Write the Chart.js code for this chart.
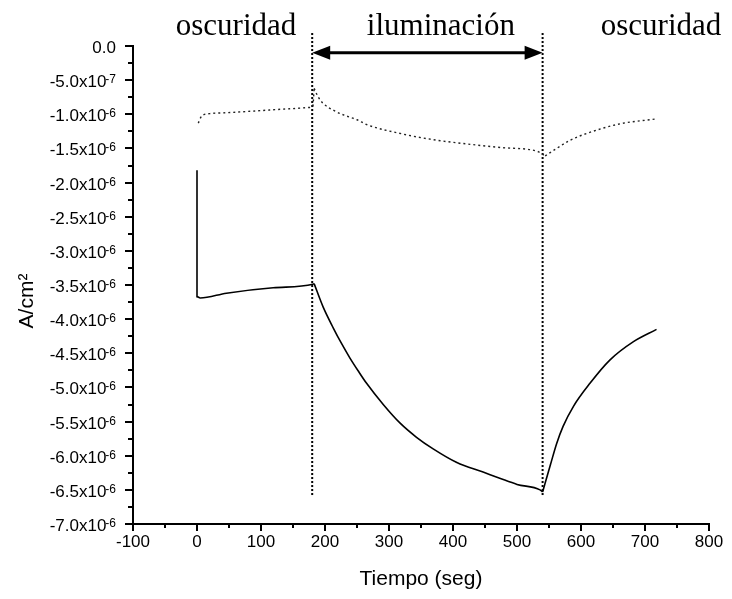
<!DOCTYPE html>
<html>
<head>
<meta charset="utf-8">
<script src="https://cdn.jsdelivr.net/npm/chart.js@4.4.1/dist/chart.umd.min.js"></script>
<style>
  html, body { margin: 0; padding: 0; background: #fff; }
</style>
</head>
<body>
<canvas id="grafica" width="732" height="599"></canvas>
<script>
// curva continua (corriente, A/cm2) vs tiempo (seg)
const tiempoSolida = [0, 0, 5, 46, 119, 181, 183, 197, 213, 226, 239, 252, 265, 291, 317, 343, 369, 406, 447, 473, 500, 536, 540, 552, 562, 572, 588, 614, 645, 682, 718];
const corrienteSolida = [-1.82e-6, -3.67e-6, -3.69e-6, -3.62e-6, -3.54e-6, -3.49e-6, -3.48e-6, -3.82e-6, -4.13e-6, -4.36e-6, -4.57e-6, -4.76e-6, -4.94e-6, -5.25e-6, -5.52e-6, -5.73e-6, -5.90e-6, -6.10e-6, -6.24e-6, -6.33e-6, -6.42e-6, -6.50e-6, -6.53e-6, -6.14e-6, -5.82e-6, -5.57e-6, -5.28e-6, -4.94e-6, -4.60e-6, -4.33e-6, -4.15e-6];

// curva punteada
const tiempoPunteada = [2, 7, 20, 41, 93, 145, 177, 181, 183, 189, 197, 213, 229, 250, 265, 322, 375, 427, 479, 531, 544, 562, 583, 609, 661, 716];
const corrientePunteada = [-1.13e-6, -1.03e-6, -0.99e-6, -0.98e-6, -0.95e-6, -0.92e-6, -0.90e-6, -0.88e-6, -0.62e-6, -0.74e-6, -0.84e-6, -0.94e-6, -1.01e-6, -1.08e-6, -1.15e-6, -1.29e-6, -1.38e-6, -1.44e-6, -1.49e-6, -1.54e-6, -1.61e-6, -1.50e-6, -1.38e-6, -1.28e-6, -1.14e-6, -1.07e-6];

// inicio y fin de la iluminacion
const cortes = [180, 540];
const corteY = [1.9e-7, -6.6e-6];

// tramos (los quiebres quedan en punta)
const quiebresSolida = [183, 540];
const quiebresPunteada = [183, 544];

const etiquetas = ['oscuridad', 'iluminación', 'oscuridad'];
const etiquetasX = [61, 381, 725];

const pareja = (xs, ys) => xs.map((x, i) => ({ x: x, y: ys[i] }));

function tramos(xs, ys, q) {
  const pts = pareja(xs, ys);
  return [
    pts.filter(p => p.x <= q[0]),
    pts.filter(p => p.x >= q[0] && p.x <= q[1]),
    pts.filter(p => p.x >= q[1])
  ];
}

Chart.defaults.font.family = '"Liberation Sans", Arial, sans-serif';
Chart.defaults.color = '#000';

const extras = {
  id: 'extras',
  afterDraw(chart) {
    const ctx = chart.ctx;
    const xs = chart.scales.x;
    const ys = chart.scales.y;
    const area = chart.chartArea;
    ctx.save();
    ctx.strokeStyle = '#000';
    ctx.fillStyle = '#000';
    ctx.lineWidth = 2;

    // marcas del eje x
    xs.ticks.forEach(t => {
      const px = Math.round(xs.getPixelForValue(t.value));
      const largo = t.value % 100 === 0 ? 7 : 4;
      ctx.beginPath();
      ctx.moveTo(px, area.bottom);
      ctx.lineTo(px, area.bottom + largo);
      ctx.stroke();
    });

    // marcas y etiquetas del eje y
    ys.ticks.forEach(t => {
      const py = Math.round(ys.getPixelForValue(t.value));
      const mayor = Math.abs(t.value / 5e-7 - Math.round(t.value / 5e-7)) < 1e-3;
      ctx.beginPath();
      ctx.moveTo(area.left, py);
      ctx.lineTo(area.left - (mayor ? 8 : 5), py);
      ctx.stroke();
      if (!mayor) return;
      let base, sup = '';
      if (Math.abs(t.value) < 1e-12) {
        base = '0.0';
      } else {
        const e = Math.floor(Math.log10(Math.abs(t.value)) + 1e-9);
        base = (t.value / Math.pow(10, e)).toFixed(1) + 'x10';
        sup = String(e);
      }
      ctx.textBaseline = 'alphabetic';
      ctx.font = '12px "Liberation Sans", Arial';
      const anchoSup = sup ? ctx.measureText(sup).width - 1 : 0;
      const derecha = area.left - 17;
      ctx.font = '17px "Liberation Sans", Arial';
      ctx.textAlign = 'right';
      ctx.fillText(base, derecha - anchoSup, py + 7);
      if (sup) {
        ctx.font = '12px "Liberation Sans", Arial';
        ctx.textAlign = 'left';
        ctx.fillText(sup, derecha - anchoSup - 1, py + 3);
      }
    });

    // titulo del eje y
    ctx.save();
    ctx.translate(27, (area.top + area.bottom) / 2 + 16);
    ctx.rotate(-Math.PI / 2);
    ctx.font = '21px "Liberation Sans", Arial';
    ctx.textAlign = 'center';
    ctx.textBaseline = 'middle';
    ctx.fillText('A/cm²', 0, 0);
    ctx.restore();

    // flecha doble
    const ay = ys.getPixelForValue(-1.0e-7);
    const a1 = xs.getPixelForValue(cortes[0]);
    const a2 = xs.getPixelForValue(cortes[1]);
    ctx.lineWidth = 3;
    ctx.beginPath();
    ctx.moveTo(a1 + 10, ay);
    ctx.lineTo(a2 - 10, ay);
    ctx.stroke();
    ctx.beginPath();
    ctx.moveTo(a1, ay);
    ctx.lineTo(a1 + 18, ay - 7);
    ctx.lineTo(a1 + 18, ay + 7);
    ctx.closePath();
    ctx.fill();
    ctx.beginPath();
    ctx.moveTo(a2, ay);
    ctx.lineTo(a2 - 18, ay - 7);
    ctx.lineTo(a2 - 18, ay + 7);
    ctx.closePath();
    ctx.fill();

    // textos de arriba
    ctx.font = '31px "Liberation Serif", "Times New Roman", serif';
    ctx.textAlign = 'center';
    ctx.textBaseline = 'alphabetic';
    etiquetas.forEach((txt, i) => {
      ctx.fillText(txt, xs.getPixelForValue(etiquetasX[i]), 35);
    });
    ctx.restore();
  }
};

const estiloSolida = {
  borderColor: '#000',
  borderWidth: 1.6,
  pointRadius: 0,
  cubicInterpolationMode: 'monotone'
};
const estiloPunteada = {
  borderColor: '#222',
  borderWidth: 1.4,
  borderDash: [2, 3],
  pointRadius: 0,
  cubicInterpolationMode: 'monotone'
};
const estiloCorte = {
  borderColor: '#000',
  borderWidth: 2,
  borderDash: [2, 2],
  pointRadius: 0,
  clip: false
};

const datasets = [];
tramos(tiempoSolida, corrienteSolida, quiebresSolida).forEach(d => datasets.push({ ...estiloSolida, data: d }));
tramos(tiempoPunteada, corrientePunteada, quiebresPunteada).forEach(d => datasets.push({ ...estiloPunteada, data: d }));
cortes.forEach(c => datasets.push({ ...estiloCorte, data: pareja([c, c], corteY) }));

const graph = document.querySelector('#grafica');

new Chart(graph, {
  type: 'line',
  data: { datasets: datasets },
  options: {
    responsive: false,
    animation: false,
    devicePixelRatio: 1,
    layout: { padding: { left: 0, right: 23, top: 46, bottom: 0 } },
    plugins: { legend: { display: false }, tooltip: { enabled: false } },
    scales: {
      x: {
        type: 'linear',
        min: -100,
        max: 800,
        grid: { display: false, tickLength: 8 },
        border: { display: true, color: '#000', width: 2 },
        ticks: {
          stepSize: 50,
          autoSkip: false,
          maxRotation: 0,
          padding: 0,
          color: '#000',
          font: { size: 17 },
          callback: v => (v % 100 === 0 ? v : '')
        },
        title: {
          display: true,
          text: 'Tiempo (seg)',
          color: '#000',
          font: { size: 21 },
          padding: { top: 0, bottom: 7 }
        },
        afterFit: s => { s.height = 75; }
      },
      y: {
        type: 'linear',
        min: -7e-6,
        max: 0,
        grid: { display: false },
        border: { display: true, color: '#000', width: 2 },
        ticks: { stepSize: 2.5e-7, autoSkip: false, callback: () => '' },
        afterFit: s => { s.width = 133; }
      }
    }
  },
  plugins: [extras]
});
</script>
</body>
</html>
